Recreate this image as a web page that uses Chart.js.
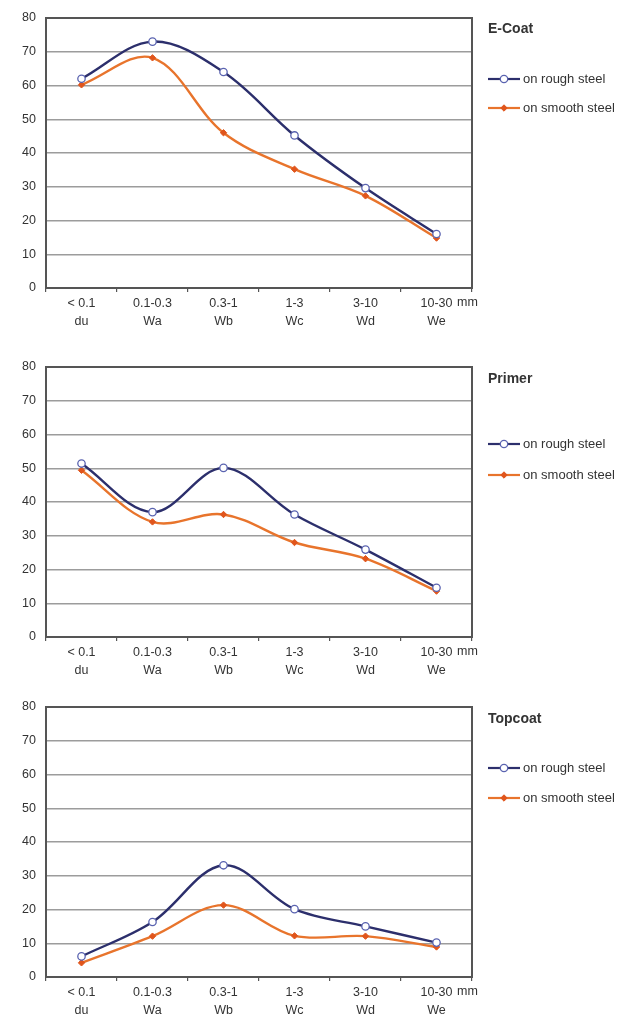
<!DOCTYPE html>
<html><head><meta charset="utf-8">
<script src="https://cdn.jsdelivr.net/npm/chart.js@4/dist/chart.umd.min.js"></script>
<style>
html,body{margin:0;padding:0;background:#fff;overflow:hidden;width:640px;height:1018px;}
.box{position:absolute;left:0;width:640px;height:340px;}
</style></head><body>
<div class="box" style="top:0px"><canvas id="c1"></canvas></div>
<div class="box" style="top:349px"><canvas id="c2"></canvas></div>
<div class="box" style="top:689px"><canvas id="c3"></canvas></div>
<script>
// ---- data ----
const sizeRanges = ['< 0.1', '0.1-0.3', '0.3-1', '1-3', '3-10', '10-30'];
const sizeClasses = ['du', 'Wa', 'Wb', 'Wc', 'Wd', 'We'];
const unitLabel = 'mm';
const yMin = 0, yMax = 80, yStep = 10;
const seriesNames = ['on rough steel', 'on smooth steel'];
const panelTitles = ['E-Coat', 'Primer', 'Topcoat'];
const ecoatRough   = [62, 73, 64, 45.2, 29.6, 16];
const ecoatSmooth  = [60.2, 68.2, 46, 35.2, 27.3, 14.8];
const primerRough  = [51.4, 37, 50.1, 36.3, 25.9, 14.6];
const primerSmooth = [49.4, 34.1, 36.3, 28, 23.2, 13.6];
const topcoatRough  = [6.1, 16.3, 33.1, 20.1, 15, 10.2];
const topcoatSmooth = [4.2, 12.1, 21.3, 12.2, 12.1, 8.9];

// ---- styling ----
const FONT = '"Liberation Sans", Arial, sans-serif';
Chart.defaults.font.family = FONT;
Chart.defaults.font.size = 12;
Chart.defaults.color = '#333';

const roughStyle = {borderColor:'#2c2f6c', pointStyle:'circle', pointRadius:3.7, pointBackgroundColor:'#ffffff', pointBorderColor:'#5a63b0', pointBorderWidth:1.3};
const smoothStyle = {borderColor:'#e8742c', pointStyle:'rectRot', pointRadius:3.2, pointBackgroundColor:'#e0551c', pointBorderColor:'#e0551c', pointBorderWidth:1};

const decor = {
  id: 'decor',
  afterDraw(chart, args, o) {
    const ctx = chart.ctx, a = chart.chartArea;
    ctx.save();
    ctx.strokeStyle = '#555'; ctx.lineWidth = 2;
    ctx.strokeRect(a.left, a.top, a.right - a.left, a.bottom - a.top);
    ctx.fillStyle = '#333'; ctx.textBaseline = 'middle'; ctx.textAlign = 'left';
    ctx.font = '12.5px ' + FONT;
    ctx.fillText(o.unit, a.right - 15, a.bottom + 15);
    ctx.font = 'bold 14px ' + FONT;
    ctx.fillText(o.title, o.lx, o.titleY);
    ctx.font = '13px ' + FONT;
    chart.data.datasets.forEach((ds, i) => {
      const y = o.itemY[i];
      ctx.strokeStyle = ds.borderColor; ctx.lineWidth = 2.2;
      ctx.beginPath(); ctx.moveTo(o.lx, y); ctx.lineTo(o.lx + 32, y); ctx.stroke();
      ctx.fillStyle = ds.pointBackgroundColor; ctx.strokeStyle = ds.pointBorderColor; ctx.lineWidth = ds.pointBorderWidth;
      Chart.helpers.drawPoint(ctx, {pointStyle: ds.pointStyle, radius: ds.pointRadius, rotation: 0, borderWidth: ds.pointBorderWidth}, o.lx + 16, y);
      ctx.fillStyle = '#333';
      ctx.fillText(ds.label, o.lx + 35, y);
    });
    ctx.restore();
  }
};

function makeChart(id, title, rough, smooth, titleY, itemY) {
  new Chart(document.getElementById(id), {
    type: 'line',
    data: {
      labels: sizeRanges.map((r, i) => [r, sizeClasses[i]]),
      datasets: [
        Object.assign({label: seriesNames[0], data: rough, borderWidth: 2.4, tension: 0.35, fill: false}, roughStyle),
        Object.assign({label: seriesNames[1], data: smooth, borderWidth: 2.4, tension: 0.35, fill: false}, smoothStyle)
      ]
    },
    options: {
      responsive: true, maintainAspectRatio: false, animation: false,
      layout: {padding: {left: 0, right: 168, top: 18, bottom: 0}},
      plugins: {legend: {display: false}, tooltip: {enabled: false},
        decor: {title: title, unit: unitLabel, lx: 488, titleY: titleY, itemY: itemY}},
      scales: {
        x: {
          offset: true,
          grid: {display: true, drawOnChartArea: false, offset: true, tickLength: 4, color: '#555', lineWidth: 1.2},
          border: {display: true, color: '#555', width: 2},
          ticks: {padding: 2, maxRotation: 0, autoSkip: false, font: {size: 12.5, lineHeight: 1.45}, color: '#333'},
          afterFit(s) { s.height = 52; }
        },
        y: {
          min: yMin, max: yMax,
          ticks: {stepSize: yStep, padding: 10, color: '#333', font: {size: 12.5}},
          grid: {color: '#9c9c9c', lineWidth: 1.5, tickLength: 0},
          border: {display: true, color: '#555', width: 2},
          afterFit(s) { s.width = 46; }
        }
      }
    },
    plugins: [decor]
  });
}

makeChart('c1', panelTitles[0], ecoatRough, ecoatSmooth, 29, [79, 108]);
makeChart('c2', panelTitles[1], primerRough, primerSmooth, 30, [95, 126]);
makeChart('c3', panelTitles[2], topcoatRough, topcoatSmooth, 30, [79, 109]);
</script>
</body></html>
